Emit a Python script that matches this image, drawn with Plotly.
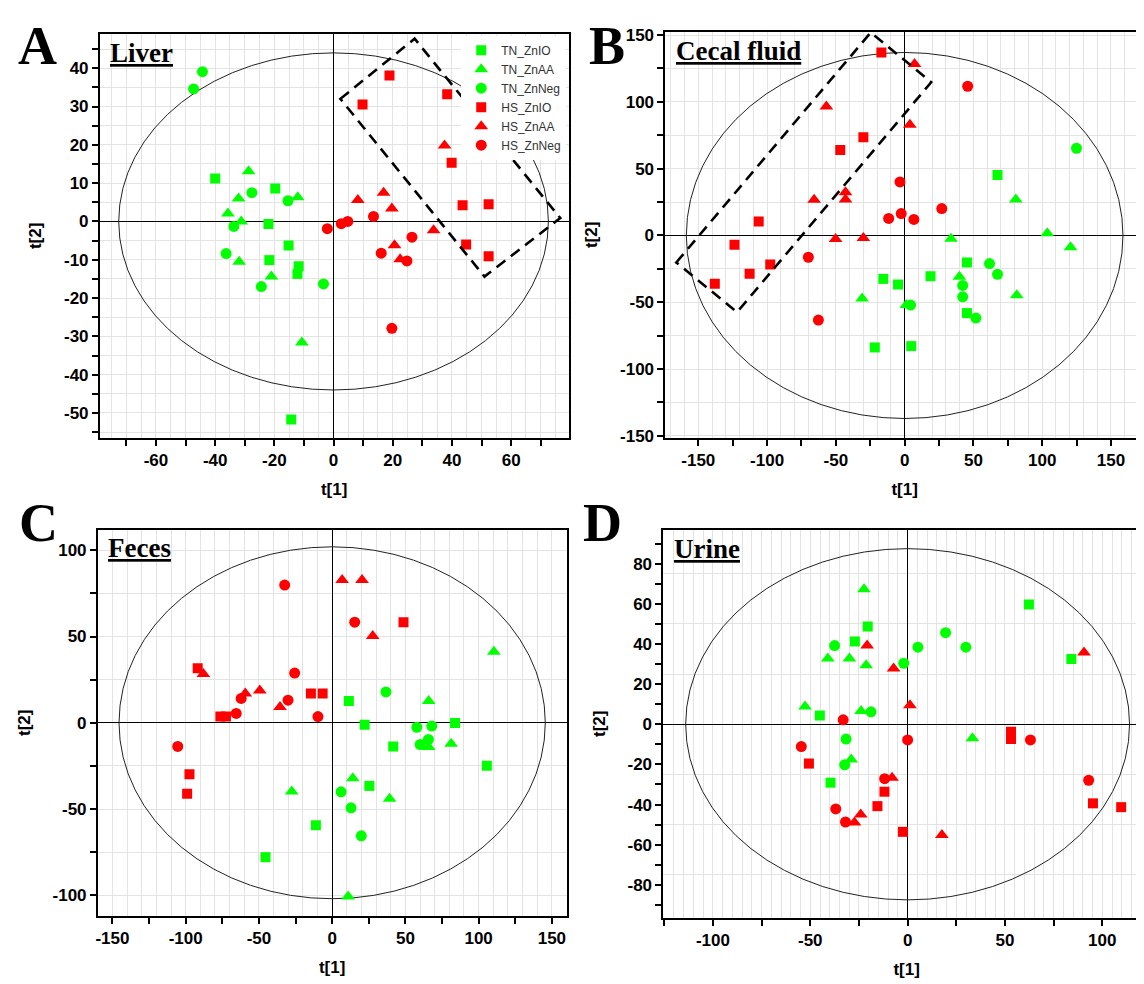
import plotly.graph_objects as go

# ---------------- data (scores t[1], t[2]) ----------------
GROUPS = ["TN_ZnIO", "TN_ZnAA", "TN_ZnNeg", "HS_ZnIO", "HS_ZnAA", "HS_ZnNeg"]

# Liver
LIVER_TN_ZNIO_X = [-40.0, -19.7, -22.0, -15.2, -21.7, -11.8, -12.2, -14.3]
LIVER_TN_ZNIO_Y = [11.2, 8.6, -0.7, -6.3, -10.1, -11.7, -13.7, -51.7]
LIVER_TN_ZNAA_X = [-28.7, -32.1, -12.1, -35.7, -31.2, -31.9, -21.0, -10.7]
LIVER_TN_ZNAA_Y = [13.1, 6.0, 6.3, 2.1, 0.0, -10.5, -14.4, -31.6]
LIVER_TN_ZNNEG_X = [-44.3, -47.3, -27.6, -15.4, -33.7, -36.3, -24.4, -3.4]
LIVER_TN_ZNNEG_Y = [39.1, 34.6, 7.5, 5.4, -1.3, -8.4, -17.0, -16.3]
LIVER_HS_ZNIO_X = [18.9, 38.4, 9.8, 39.9, 43.6, 52.4, 44.8, 52.4]
LIVER_HS_ZNIO_Y = [38.1, 33.2, 30.5, 15.3, 4.2, 4.5, -6.0, -9.1]
LIVER_HS_ZNAA_X = [37.5, 8.2, 16.9, 19.7, 33.8, 20.6, 22.5]
LIVER_HS_ZNAA_Y = [19.8, 5.6, 7.5, 3.4, -2.3, -6.2, -9.9]
LIVER_HS_ZNNEG_X = [-2.1, 2.6, 4.8, 13.5, 26.5, 16.1, 24.8, 19.7]
LIVER_HS_ZNNEG_Y = [-1.9, -0.6, 0.0, 1.3, -4.1, -8.3, -10.3, -27.9]

# Cecal fluid
CECAL_TN_ZNIO_X = [67.5, 45.3, 18.8, -15.5, -4.8, 45.3, -21.7, 4.8]
CECAL_TN_ZNIO_Y = [45.2, -20.2, -30.5, -32.5, -36.7, -58.1, -83.8, -82.8]
CECAL_TN_ZNAA_X = [80.8, 103.7, 120.6, 33.7, 39.8, 81.5, -30.9, 1.2]
CECAL_TN_ZNAA_Y = [26.9, 1.7, -8.8, -2.4, -30.8, -44.7, -47.1, -52.1]
CECAL_TN_ZNNEG_X = [124.9, 61.7, 67.5, 42.2, 42.2, 51.8, 4.3]
CECAL_TN_ZNNEG_Y = [65.3, -21.0, -29.1, -37.4, -45.9, -61.8, -52.1]
CECAL_HS_ZNIO_X = [-16.9, -30.0, -46.8, -106.1, -123.7, -97.7, -112.7, -138.0]
CECAL_HS_ZNIO_Y = [136.9, 73.6, 64.0, 10.5, -7.0, -21.7, -28.6, -36.1]
CECAL_HS_ZNAA_X = [7.2, -56.9, 3.8, -43.0, -43.0, -65.8, -50.2, -30.0]
CECAL_HS_ZNAA_Y = [128.3, 96.5, 82.8, 32.3, 26.9, 26.7, -2.7, -1.9]
CECAL_HS_ZNNEG_X = [45.8, -3.4, 27.0, -11.6, -2.5, 6.7, -70.0, -62.7]
CECAL_HS_ZNNEG_Y = [111.7, 40.1, 20.1, 12.8, 16.4, 12.0, -16.3, -63.3]

# Feces
FECES_TN_ZNIO_X = [11.4, 22.2, 83.9, 41.7, 105.6, 25.4, -11.1, -45.5]
FECES_TN_ZNIO_Y = [12.6, -1.1, -0.2, -13.7, -24.9, -36.6, -59.4, -77.9]
FECES_TN_ZNAA_X = [110.4, 65.9, 81.2, 65.9, 14.1, -27.6, 39.2, 10.9]
FECES_TN_ZNAA_Y = [41.1, 12.6, -12.2, -14.1, -32.2, -39.8, -44.0, -100.7]
FECES_TN_ZNNEG_X = [36.7, 57.8, 68.0, 65.7, 60.1, 6.1, 12.9, 19.9]
FECES_TN_ZNNEG_Y = [17.9, -2.6, -1.9, -9.7, -12.6, -40.0, -49.3, -65.5]
FECES_HS_ZNIO_X = [48.7, -91.8, -14.5, -6.5, -76.3, -72.5, -97.4, -99.0]
FECES_HS_ZNIO_Y = [58.3, 31.6, 17.0, 17.0, 3.6, 3.6, -29.9, -41.1]
FECES_HS_ZNAA_X = [6.8, 20.4, 27.7, -87.9, -59.3, -49.4, -35.6]
FECES_HS_ZNAA_Y = [82.7, 82.7, 50.3, 28.2, 17.0, 18.7, 9.1]
FECES_HS_ZNNEG_X = [-32.4, 15.4, -25.6, -62.1, -30.1, -65.5, -9.7, -105.4]
FECES_HS_ZNNEG_Y = [79.8, 58.3, 28.8, 14.1, 13.1, 5.4, 3.6, -13.7]

# Urine
URINE_TN_ZNIO_X = [62.3, -20.5, -27.1, 84.1, -45.1, -39.6]
URINE_TN_ZNIO_Y = [59.7, 48.7, 41.2, 32.5, 4.4, -29.1]
URINE_TN_ZNAA_X = [-22.4, -41.0, -29.9, -21.3, -52.7, -23.9, 33.3, -29.0]
URINE_TN_ZNAA_Y = [67.3, 32.7, 32.7, 29.4, 8.8, 6.6, -7.0, -17.6]
URINE_TN_ZNNEG_X = [19.5, 29.9, 5.3, -37.5, -2.0, -18.8, -31.6, -32.3]
URINE_TN_ZNNEG_Y = [45.6, 38.4, 38.4, 39.2, 30.4, 6.2, -7.4, -20.2]
URINE_HS_ZNIO_X = [53.1, 53.1, -50.7, -11.9, -15.5, -2.4, 95.2, 109.7]
URINE_HS_ZNIO_Y = [-3.7, -7.4, -19.6, -33.6, -40.8, -53.6, -39.4, -41.3]
URINE_HS_ZNAA_X = [-20.8, 90.6, -7.2, 1.2, -8.0, -24.1, -27.3, 17.6]
URINE_HS_ZNAA_Y = [39.2, 35.8, 27.8, 9.5, -26.6, -44.9, -49.0, -55.2]
URINE_HS_ZNNEG_X = [-33.1, 0.0, 63.1, -54.6, -11.8, 93.0, -36.9, -31.9]
URINE_HS_ZNNEG_Y = [2.2, -7.8, -7.8, -11.1, -27.1, -27.9, -42.2, -48.7]

# Hotelling T2 ellipse semi-axes (t[1], t[2])
ELLIPSE_A = [72.6, 44.0]
ELLIPSE_B = [158.7, 137.0]
ELLIPSE_C = [145.5, 102.0]
ELLIPSE_D = [114.0, 87.5]

# dashed selection boxes (corner coordinates in score units)
BOX_A_X = [2.3, 27.4, 76.6, 51.0]
BOX_A_Y = [32.0, 47.7, 0.9, -14.4]
BOX_B_X = [-166.0, -24.6, 19.3, -121.8]
BOX_B_Y = [-20.2, 152.0, 114.7, -57.4]

PANEL_TITLES = ["Liver", "Cecal fluid", "Feces", "Urine"]
PANEL_LETTERS = ["A", "B", "C", "D"]

# ---------------- styling ----------------
COLORS = {"TN": "#00ff00", "HS": "#ff0000"}
SYMBOLS = {"ZnIO": "square", "ZnAA": "triangle-up", "ZnNeg": "circle"}
SIZES = {"ZnIO": 10, "ZnAA": 12, "ZnNeg": 11}
GRID = "#e3e3e3"
SANS = "Liberation Sans"
SERIF = "Liberation Serif"

W, H = 1144, 984

panels = [
    dict(data=[(LIVER_TN_ZNIO_X, LIVER_TN_ZNIO_Y), (LIVER_TN_ZNAA_X, LIVER_TN_ZNAA_Y),
               (LIVER_TN_ZNNEG_X, LIVER_TN_ZNNEG_Y), (LIVER_HS_ZNIO_X, LIVER_HS_ZNIO_Y),
               (LIVER_HS_ZNAA_X, LIVER_HS_ZNAA_Y), (LIVER_HS_ZNNEG_X, LIVER_HS_ZNNEG_Y)],
         px=(90, 560, 20, 430), xr=[-79, 79.4], yr=[-56.5, 49],
         xt=(-70, 70, 10, 20), yt=(-55, 45, 5, 10), xg=5, yg=5, ell=ELLIPSE_A,
         box=(BOX_A_X, BOX_A_Y), letter=(28, 0)),
    dict(data=[(CECAL_TN_ZNIO_X, CECAL_TN_ZNIO_Y), (CECAL_TN_ZNAA_X, CECAL_TN_ZNAA_Y),
               (CECAL_TN_ZNNEG_X, CECAL_TN_ZNNEG_Y), (CECAL_HS_ZNIO_X, CECAL_HS_ZNIO_Y),
               (CECAL_HS_ZNAA_X, CECAL_HS_ZNAA_Y), (CECAL_HS_ZNNEG_X, CECAL_HS_ZNNEG_Y)],
         px=(657, 1137, 18, 430), xr=[-174, 174], yr=[-151.5, 152.5],
         xt=(-150, 150, 25, 50), yt=(-150, 150, 25, 50), xg=10, yg=25, ell=ELLIPSE_B,
         box=(BOX_B_X, BOX_B_Y), letter=(599, 0)),
    dict(data=[(FECES_TN_ZNIO_X, FECES_TN_ZNIO_Y), (FECES_TN_ZNAA_X, FECES_TN_ZNAA_Y),
               (FECES_TN_ZNNEG_X, FECES_TN_ZNNEG_Y), (FECES_HS_ZNIO_X, FECES_HS_ZNIO_Y),
               (FECES_HS_ZNAA_X, FECES_HS_ZNAA_Y), (FECES_HS_ZNNEG_X, FECES_HS_ZNNEG_Y)],
         px=(88, 558, 523, 915), xr=[-160, 160], yr=[-112, 112],
         xt=(-150, 150, 25, 50), yt=(-100, 100, 25, 50), xg=10, yg=25, ell=ELLIPSE_C,
         box=None, letter=(29, 484)),
    dict(data=[(URINE_TN_ZNIO_X, URINE_TN_ZNIO_Y), (URINE_TN_ZNAA_X, URINE_TN_ZNAA_Y),
               (URINE_TN_ZNNEG_X, URINE_TN_ZNNEG_Y), (URINE_HS_ZNIO_X, URINE_HS_ZNIO_Y),
               (URINE_HS_ZNAA_X, URINE_HS_ZNAA_Y), (URINE_HS_ZNNEG_X, URINE_HS_ZNNEG_Y)],
         px=(655, 1143, 523, 917), xr=[-125.5, 124.5], yr=[-96.5, 97],
         xt=(-125, 125, 25, 50), yt=(-90, 90, 10, 20), xg=5, yg=25, ell=ELLIPSE_D,
         box=None, letter=(594, 484)),
]

fig = go.Figure()
layout = dict(width=W, height=H, margin=dict(l=0, r=0, t=0, b=0),
              paper_bgcolor="white", plot_bgcolor="white", showlegend=True)
shapes, annotations = [], []


def ticks(lo, hi, step, lab):
    vals = list(range(lo, hi + 1, step))
    txt = [str(v) if v % lab == 0 else "" for v in vals]
    return vals, txt


for i, p in enumerate(panels):
    n = "" if i == 0 else str(i + 1)
    xa, ya = "x" + n, "y" + n
    x0, x1, y0, y1 = p["px"]
    for g, (xs, ys) in zip(GROUPS, p["data"]):
        trt, zn = g.split("_")
        fig.add_trace(go.Scatter(
            x=xs, y=ys, mode="markers", name=g, legendgroup=g, showlegend=(i == 0),
            xaxis=xa, yaxis=ya,
            marker=dict(color=COLORS[trt], symbol=SYMBOLS[zn], size=SIZES[zn],
                        line=dict(width=0))))
    xv, xtxt = ticks(*p["xt"])
    yv, ytxt = ticks(*p["yt"])
    common = dict(showline=True, linecolor="black", linewidth=1.6, mirror=True,
                  ticks="outside", ticklen=6, tickwidth=1.5, tickcolor="black",
                  tickfont=dict(family=SANS, size=17, color="black", weight="bold"),
                  zeroline=True, zerolinecolor="black", zerolinewidth=1.2,
                  showgrid=False, gridcolor=GRID, gridwidth=1)
    layout["xaxis" + n] = dict(common, domain=[x0 / W, x1 / W], range=p["xr"],
                               anchor=ya, tickmode="array", tickvals=xv, ticktext=xtxt,
                               minor=dict(dtick=p["xg"], tick0=0, showgrid=True,
                                          gridcolor=GRID, gridwidth=1, ticks=""),
                               title=dict(text="t[1]", standoff=14,
                                          font=dict(family=SANS, size=17, color="black",
                                                    weight="bold")))
    layout["yaxis" + n] = dict(common, domain=[1 - y1 / H, 1 - y0 / H], range=p["yr"],
                               anchor=xa, tickmode="array", tickvals=yv, ticktext=ytxt,
                               minor=dict(dtick=p["yg"], tick0=0, showgrid=True,
                                          gridcolor=GRID, gridwidth=1, ticks=""),
                               title=dict(text="t[2]", standoff=18,
                                          font=dict(family=SANS, size=17, color="black",
                                                    weight="bold")))
    a, b = p["ell"]
    shapes.append(dict(type="circle", xref=xa, yref=ya, x0=-a, x1=a, y0=-b, y1=b,
                       line=dict(color="#222222", width=1), layer="between"))
    if p["box"] is not None:
        bx, by = p["box"]
        path = "M " + " L ".join(f"{u},{v}" for u, v in zip(bx, by)) + " Z"
        shapes.append(dict(type="path", xref=xa, yref=ya, path=path,
                           line=dict(color="black", width=2.6, dash="11px,7px"),
                           layer="above"))
    annotations.append(dict(text="<u>" + PANEL_TITLES[i] + "</u>",
                            xref=xa + " domain", yref=ya + " domain", x=0.018, y=0.995,
                            xanchor="left", yanchor="top", showarrow=False,
                            font=dict(family=SERIF, size=27, color="black", weight="bold")))
    lx, ly = p["letter"]
    annotations.append(dict(text=PANEL_LETTERS[i], xref="paper", yref="paper",
                            x=lx / W, y=1 - ly / H,
                            xanchor="center", yanchor="top", showarrow=False,
                            font=dict(family=SERIF, size=54, color="black", weight="bold")))

layout["shapes"] = shapes
layout["annotations"] = annotations
layout["legend"] = dict(x=560 / W - 0.002, xanchor="right", y=1 - 22 / H, yanchor="top",
                        bgcolor="white", borderwidth=0, tracegroupgap=0,
                        font=dict(family=SANS, size=12, color="#333333"),
                        itemwidth=30)
fig.update_layout(**layout)
fig.write_html("out.html")
